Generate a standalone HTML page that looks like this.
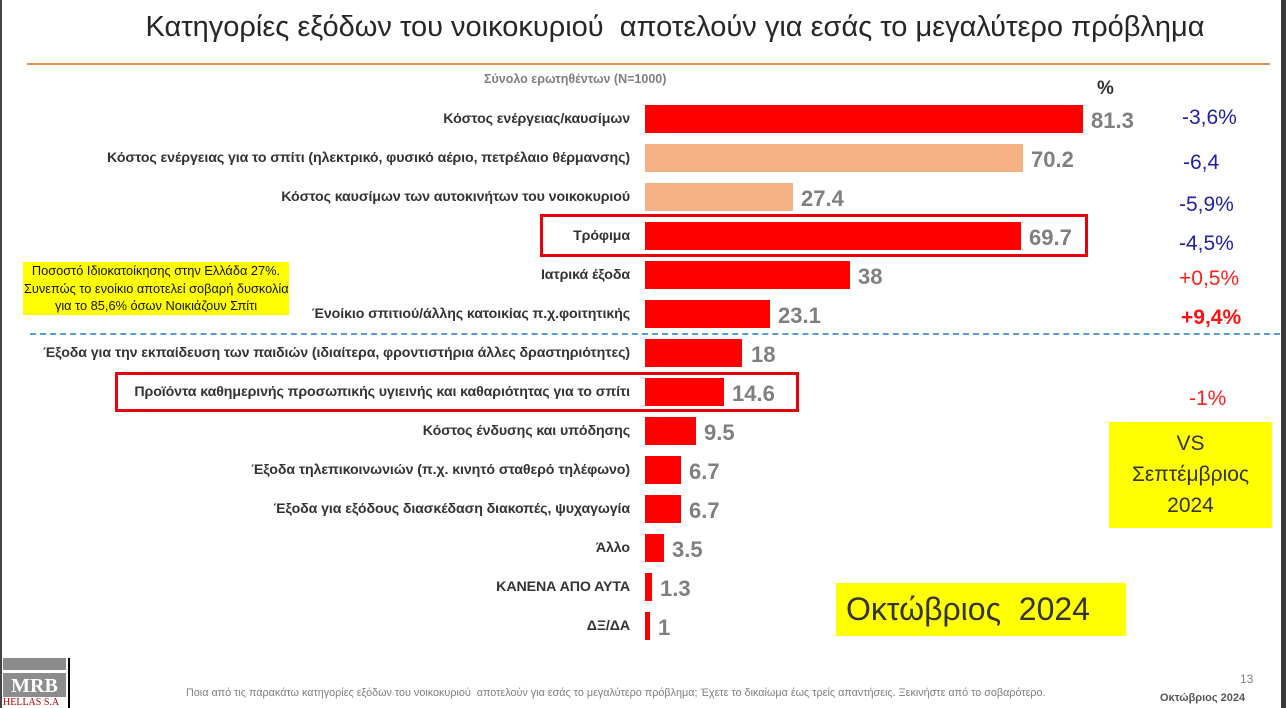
<!DOCTYPE html>
<html><head><meta charset="utf-8"><style>
*{margin:0;padding:0;box-sizing:border-box}
body{width:1286px;height:708px;background:#fff;position:relative;overflow:hidden;font-family:"Liberation Sans","DejaVu Sans",sans-serif}
.a{position:absolute}
.lbl{position:absolute;right:656px;font-size:14.2px;font-weight:bold;color:#333;white-space:nowrap;height:28px;line-height:28px;letter-spacing:-0.1px}
.bar{position:absolute;left:645px;height:28px;background:#ff0000}
.val{position:absolute;font-size:22px;font-weight:bold;color:#7f7f7f;line-height:28px;height:28px}
.chg{position:absolute;font-size:21px;white-space:nowrap}
</style></head><body>
<div class="a" style="left:0;top:0;width:2px;height:708px;background:#444"></div>
<div class="a" style="left:1281px;top:0;width:5px;height:708px;background:#3a3a3a"></div>
<div class="a" style="left:0;top:11px;width:1286px;text-align:center;padding-left:64px;font-size:29px;color:#262626">Κατηγορίες εξόδων του νοικοκυριού&nbsp; αποτελούν για εσάς το μεγαλύτερο πρόβλημα</div>
<div class="a" style="left:27px;top:63px;width:1243px;height:2px;background:#e0904f"></div>
<div class="a" style="left:484px;top:72px;font-size:12.5px;font-weight:bold;color:#7f7f7f">Σύνολο ερωτηθέντων (N=1000)</div>
<div class="a" style="left:1097px;top:78px;font-size:19px;font-weight:bold;color:#333">%</div>

<div class="lbl" style="top:105px">Κόστος ενέργειας/καυσίμων</div>
<div class="bar" style="top:105px;width:438px"></div><div class="val" style="top:107px;left:1091px">81.3</div>
<div class="lbl" style="top:144px">Κόστος ενέργειας για το σπίτι (ηλεκτρικό, φυσικό αέριο, πετρέλαιο θέρμανσης)</div>
<div class="bar" style="top:144px;width:378px;background:#f4b183"></div><div class="val" style="top:146px;left:1031px">70.2</div>
<div class="lbl" style="top:183px">Κόστος καυσίμων των αυτοκινήτων του νοικοκυριού</div>
<div class="bar" style="top:183px;width:148px;background:#f4b183"></div><div class="val" style="top:185px;left:801px">27.4</div>
<div class="lbl" style="top:222px">Τρόφιμα</div>
<div class="bar" style="top:222px;width:376px"></div><div class="val" style="top:224px;left:1029px">69.7</div>
<div class="lbl" style="top:261px">Ιατρικά έξοδα</div>
<div class="bar" style="top:261px;width:205px"></div><div class="val" style="top:263px;left:858px">38</div>
<div class="lbl" style="top:300px">Ένοίκιο σπιτιού/άλλης κατοικίας π.χ.φοιτητικής</div>
<div class="bar" style="top:300px;width:125px"></div><div class="val" style="top:302px;left:778px">23.1</div>
<div class="lbl" style="top:339px">Έξοδα για την εκπαίδευση των παιδιών (ιδιαίτερα, φροντιστήρια άλλες δραστηριότητες)</div>
<div class="bar" style="top:339px;width:97px"></div><div class="val" style="top:341px;left:751px">18</div>
<div class="lbl" style="top:378px">Προϊόντα καθημερινής προσωπικής υγιεινής και καθαριότητας για το σπίτι</div>
<div class="bar" style="top:378px;width:79px"></div><div class="val" style="top:380px;left:732px">14.6</div>
<div class="lbl" style="top:417px">Κόστος ένδυσης και υπόδησης</div>
<div class="bar" style="top:417px;width:51px"></div><div class="val" style="top:419px;left:704px">9.5</div>
<div class="lbl" style="top:456px">Έξοδα τηλεπικοινωνιών (π.χ. κινητό σταθερό τηλέφωνο)</div>
<div class="bar" style="top:456px;width:36px"></div><div class="val" style="top:458px;left:689px">6.7</div>
<div class="lbl" style="top:495px">Έξοδα για εξόδους διασκέδαση διακοπές, ψυχαγωγία</div>
<div class="bar" style="top:495px;width:36px"></div><div class="val" style="top:497px;left:689px">6.7</div>
<div class="lbl" style="top:534px">Άλλο</div>
<div class="bar" style="top:534px;width:19px"></div><div class="val" style="top:536px;left:672px">3.5</div>
<div class="lbl" style="top:573px">ΚΑΝΕΝΑ ΑΠΟ ΑΥΤΑ</div>
<div class="bar" style="top:573px;width:7px"></div><div class="val" style="top:575px;left:660px">1.3</div>
<div class="lbl" style="top:612px">ΔΞ/ΔΑ</div>
<div class="bar" style="top:612px;width:5px"></div><div class="val" style="top:614px;left:658px">1</div>

<div class="a" style="left:540px;top:214px;width:548px;height:43px;border:3px solid #e8000b"></div>
<div class="a" style="left:115px;top:372px;width:684px;height:40px;border:3px solid #e8000b"></div>
<div class="a" style="left:30px;top:333px;width:1250px;border-top:2px dashed #5b9bd5"></div>

<div class="a" style="left:23px;top:262px;width:266px;background:#ffff00;font-size:12.8px;color:#111;text-align:center;line-height:17.5px;padding:0 1px;white-space:nowrap">Ποσοστό Ιδιοκατοίκησης στην Ελλάδα 27%.<br>Συνεπώς το ενοίκιο αποτελεί σοβαρή δυσκολία<br>για το 85,6% όσων Νοικιάζουν Σπίτι</div>

<div class="chg" style="left:1182px;top:106px;color:#1f1fa8">-3,6%</div>
<div class="chg" style="left:1183px;top:151px;color:#1f1fa8">-6,4</div>
<div class="chg" style="left:1179px;top:193px;color:#1f1fa8">-5,9%</div>
<div class="chg" style="left:1179px;top:232px;color:#1f1fa8">-4,5%</div>
<div class="chg" style="left:1179px;top:267px;color:#ff1f1f">+0,5%</div>
<div class="chg" style="left:1181px;top:306px;color:#ff1010;font-weight:bold">+9,4%</div>
<div class="chg" style="left:1189px;top:387px;color:#ff1f1f">-1%</div>

<div class="a" style="left:1109px;top:422px;width:163px;height:106px;background:#ffff00;color:#333;font-size:21px;text-align:center;line-height:31px;padding-top:6px">VS<br>Σεπτέμβριος<br>2024</div>
<div class="a" style="left:836px;top:583px;width:290px;height:53px;background:#ffff00;color:#333;font-size:32px;line-height:53px;padding-left:10px">Οκτώβριος&nbsp; 2024</div>

<div class="a" style="left:3px;top:658px;width:63px;height:12px;background:#8c8c8c"></div>
<div class="a" style="left:3px;top:673px;width:63px;height:24px;background:#8c8c8c;color:#fff;font-family:'Liberation Serif',serif;font-weight:bold;font-size:20px;line-height:26px;text-align:center">MRB</div>
<div class="a" style="left:3px;top:697px;font-family:'Liberation Serif',serif;font-size:10px;color:#a00">HELLAS S.A</div>
<div class="a" style="left:68px;top:658px;width:2px;height:50px;background:#000"></div>
<div class="a" style="left:186px;top:687px;font-size:10.8px;color:#7f7f7f;white-space:nowrap">Ποια από τις παρακάτω κατηγορίες εξόδων του νοικοκυριού&nbsp; αποτελούν για εσάς το μεγαλύτερο πρόβλημα; Έχετε το δικαίωμα έως τρείς απαντήσεις. Ξεκινήστε από το σοβαρότερο.</div>
<div class="a" style="left:1240px;top:672px;font-size:12px;color:#7f7f7f">13</div>
<div class="a" style="left:1160px;top:692px;font-size:11px;font-weight:bold;color:#555">Οκτώβριος 2024</div>
</body></html>
